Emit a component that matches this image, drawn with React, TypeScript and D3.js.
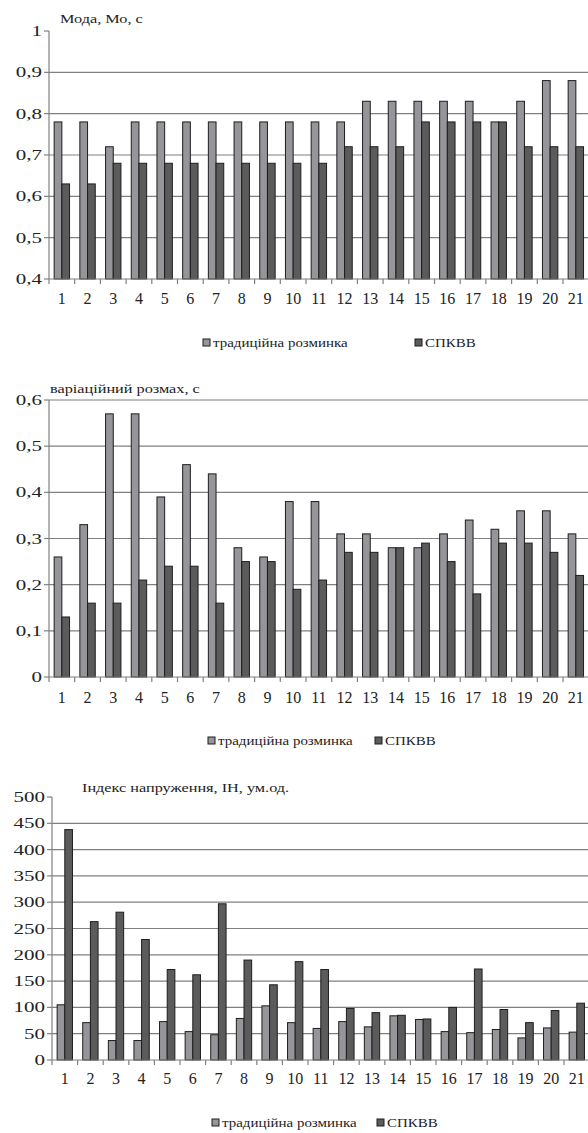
import React from "react";
import * as d3 from "d3";

const categories = Array.from({ length: 21 }, (_, i) => String(i + 1));
const seriesNames = ["традиційна розминка", "СПКВВ"];

const modaTraditional = [0.78, 0.78, 0.72, 0.78, 0.78, 0.78, 0.78, 0.78, 0.78, 0.78, 0.78, 0.78, 0.83, 0.83, 0.83, 0.83, 0.83, 0.78, 0.83, 0.88, 0.88];
const modaSpkvv = [0.63, 0.63, 0.68, 0.68, 0.68, 0.68, 0.68, 0.68, 0.68, 0.68, 0.68, 0.72, 0.72, 0.72, 0.78, 0.78, 0.78, 0.78, 0.72, 0.72, 0.72];
const modaTicks = [0.4, 0.5, 0.6, 0.7, 0.8, 0.9, 1];

const rangeTraditional = [0.26, 0.33, 0.57, 0.57, 0.39, 0.46, 0.44, 0.28, 0.26, 0.38, 0.38, 0.31, 0.31, 0.28, 0.28, 0.31, 0.34, 0.32, 0.36, 0.36, 0.31];
const rangeSpkvv = [0.13, 0.16, 0.16, 0.21, 0.24, 0.24, 0.16, 0.25, 0.25, 0.19, 0.21, 0.27, 0.27, 0.28, 0.29, 0.25, 0.18, 0.29, 0.29, 0.27, 0.22];
const rangeTicks = [0, 0.1, 0.2, 0.3, 0.4, 0.5, 0.6];

const indexTraditional = [105, 71, 37, 37, 73, 54, 48, 79, 103, 71, 60, 73, 63, 84, 77, 54, 52, 58, 42, 61, 53];
const indexSpkvv = [438, 263, 281, 229, 172, 162, 297, 190, 143, 187, 172, 98, 90, 85, 78, 100, 173, 96, 71, 94, 108];
const indexTicks = [0, 50, 100, 150, 200, 250, 300, 350, 400, 450, 500];

const GRAY = "#95959a";
const DARK = "#5b5b5b";
const STROKE = "#1e1e1e";
const GRID = "#808080";
const FONT = "Liberation Serif, Tinos, Times New Roman, DejaVu Serif, serif";
const TXT = "#222";

type ChartProps = {
  trad: number[];
  spk: number[];
  ticks: number[];
  domain: [number, number];
  x0: number;
  x1: number;
  yTop: number;
  yBot: number;
  title: string;
  titleX: number;
  titleY: number;
  labelY: number;
  legendY: number;
  legendGrayX: number;
  legendDarkX: number;
  fmt: (v: number) => string;
  topGrid: boolean;
};

function SText({ x, y, sx = 1, anchor = "start", size, children }: any) {
  return (
    <text
      transform={`translate(${x},${y}) scale(${sx},1)`}
      textAnchor={anchor}
      style={{ fontFamily: FONT, fontSize: size + "px", fill: TXT }}
    >
      {children}
    </text>
  );
}

function Chart(p: ChartProps) {
  const x = d3.scaleBand<string>().domain(categories).range([p.x0, p.x1]).padding(0);
  const inner = d3
    .scaleBand<string>()
    .domain(["t", "s"])
    .range([0, x.bandwidth()])
    .paddingInner(0)
    .paddingOuter(0.67);
  const y = d3.scaleLinear().domain(p.domain).range([p.yBot, p.yTop]);
  const boundaries = categories.map((c) => x(c)!).concat([p.x1]);
  return (
    <g>
      {p.ticks.slice(1).map((t) =>
        t === p.domain[1] && !p.topGrid ? null : (
          <line key={"g" + t} x1={p.x0} x2={588} y1={y(t)} y2={y(t)} stroke={GRID} strokeWidth={1.2} />
        )
      )}
      {p.ticks.map((t) => (
        <g key={"t" + t}>
          <line x1={p.x0 - 5} x2={p.x0} y1={y(t)} y2={y(t)} stroke={GRID} strokeWidth={1.2} />
          <SText x={p.x0 - 7} y={y(t) + 5} sx={1.45} anchor="end" size={14.5}>
            {p.fmt(t)}
          </SText>
        </g>
      ))}
      {categories.map((c, i) => (
        <g key={"b" + c}>
          <rect
            x={x(c)! + inner("t")!}
            y={y(p.trad[i])}
            width={inner.bandwidth()}
            height={y(p.domain[0]) - y(p.trad[i])}
            fill={GRAY}
            stroke={STROKE}
            strokeWidth={1}
          />
          <rect
            x={x(c)! + inner("s")!}
            y={y(p.spk[i])}
            width={inner.bandwidth()}
            height={y(p.domain[0]) - y(p.spk[i])}
            fill={DARK}
            stroke={STROKE}
            strokeWidth={1}
          />
        </g>
      ))}
      <line x1={p.x0} x2={p.x0} y1={p.yTop} y2={p.yBot} stroke={GRID} strokeWidth={1.2} />
      <line x1={p.x0} x2={588} y1={p.yBot} y2={p.yBot} stroke={GRID} strokeWidth={1.2} />
      {boundaries.map((b, i) => (
        <line key={"xt" + i} x1={b} x2={b} y1={p.yBot} y2={p.yBot + 5} stroke={GRID} strokeWidth={1.2} />
      ))}
      {categories.map((c) => (
        <SText key={"xl" + c} x={x(c)! + x.bandwidth() / 2} y={p.labelY} anchor="middle" size={16}>
          {c}
        </SText>
      ))}
      <SText x={p.titleX} y={p.titleY} sx={1.25} size={13}>
        {p.title}
      </SText>
      <rect x={p.legendGrayX} y={p.legendY - 4} width={7} height={7} fill={GRAY} stroke={STROKE} strokeWidth={1} />
      <SText x={p.legendGrayX + 10} y={p.legendY + 4} sx={1.15} size={13}>
        {seriesNames[0]}
      </SText>
      <rect x={p.legendDarkX} y={p.legendY - 4} width={7} height={7} fill={DARK} stroke={STROKE} strokeWidth={1} />
      <SText x={p.legendDarkX + 10} y={p.legendY + 4} sx={1.15} size={13}>
        {seriesNames[1]}
      </SText>
    </g>
  );
}

const fmtComma = (v: number) => d3.format(".1f")(v).replace(".", ",").replace(/^1,0$/, "1").replace(/^0,0$/, "0");

export default function App() {
  return (
    <svg width={588} height={1133} style={{ position: "absolute", left: 0, top: 0, background: "#fff" }}>
      <rect width={588} height={1133} fill="#fff" />
      <Chart
        trad={modaTraditional}
        spk={modaSpkvv}
        ticks={modaTicks}
        domain={[0.4, 1]}
        x0={49}
        x1={588.7}
        yTop={31}
        yBot={279}
        title="Мода, Мо, с"
        titleX={60}
        titleY={23}
        labelY={304}
        legendY={343}
        legendGrayX={203}
        legendDarkX={415}
        fmt={fmtComma}
        topGrid={false}
      />
      <Chart
        trad={rangeTraditional}
        spk={rangeSpkvv}
        ticks={rangeTicks}
        domain={[0, 0.6]}
        x0={49}
        x1={588.7}
        yTop={400}
        yBot={677}
        title="варіаційний розмах, с"
        titleX={50}
        titleY={393}
        labelY={703}
        legendY={741}
        legendGrayX={208}
        legendDarkX={375}
        fmt={fmtComma}
        topGrid={true}
      />
      <Chart
        trad={indexTraditional}
        spk={indexSpkvv}
        ticks={indexTicks}
        domain={[0, 500]}
        x0={52}
        x1={589.6}
        yTop={797}
        yBot={1060}
        title="Індекс напруження, ІН, ум.од."
        titleX={82}
        titleY={792}
        labelY={1084}
        legendY={1123}
        legendGrayX={212}
        legendDarkX={377}
        fmt={(v) => String(v)}
        topGrid={false}
      />
    </svg>
  );
}
